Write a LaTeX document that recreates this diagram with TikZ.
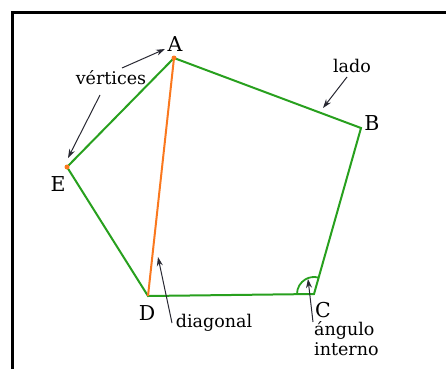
\documentclass[tikz,border=0pt]{standalone}
\usepackage{fontspec}
\setmainfont{DejaVu Serif}
\usetikzlibrary{arrows.meta}
\definecolor{side}{RGB}{40,160,30}
\definecolor{diag}{RGB}{250,120,30}
\definecolor{ink}{RGB}{40,40,50}
\tikzset{
  side/.style={draw=side, line width=2pt, line join=miter},
  diag/.style={draw=diag, line width=2pt},
  vlabel/.style={font=\fontsize{20.5}{22}\selectfont, text=black, inner sep=0pt},
  wlabel/.style={font=\fontsize{17.5}{20}\selectfont, text=black, inner sep=0pt},
  pointer/.style={draw=ink, line width=1pt, -{Stealth[length=9pt,width=6pt]}},
  dot/.style={circle, fill=diag, inner sep=0pt, minimum size=5pt}
}
\begin{document}
\begin{tikzpicture}[x=1pt,y=-1pt]
\useasboundingbox (0,0) rectangle (446,369);
\draw[line width=3pt] (12,369) -- (12,13) -- (446,13);
% vertices
\coordinate (A) at (174,58);
\coordinate (B) at (361,128);
\coordinate (C) at (314,294);
\coordinate (D) at (148,296);
\coordinate (E) at (67,167);
\draw[side] (A) -- (B) -- (C) -- (D) -- (E) -- cycle;
\draw[diag] (A) -- (D);
\node[dot] (dA) at (A) {};
\node[dot] (dE) at (E) {};
% interior angle at C
\draw[side, line width=1.8pt] ([shift={(-17,0)}]C) arc[start angle=180, end angle=284, radius=17];
% vertex labels
\node[vlabel] (lA) at (175,44) {A};
\node[vlabel] (lB) at (372,123) {B};
\node[vlabel] (lC) at (323,310) {C};
\node[vlabel] (lD) at (147,313) {D};
\node[vlabel] (lE) at (58,184) {E};
% word labels
\node[wlabel] (vert) at (111,78) {vértices};
\node[wlabel] (lado) at (352,66) {lado};
\node[wlabel] (diagonal) at (214,323) {diagonal};
\node[wlabel, align=left, anchor=north west] (ang) at (314,321) {ángulo\\[0pt]interno};
% pointer ends
\coordinate (pA) at (165,49);
\coordinate (pE) at (68,158);
\coordinate (pL) at (323,108);
\coordinate (pD) at (158,257);
\coordinate (pC) at (308,279);
\coordinate (sA) at (122,68);
\coordinate (sE) at (100,95);
\coordinate (sL) at (347,77);
\coordinate (sD) at (172,323);
\coordinate (sC) at (313,322);
\draw[pointer] (sA) -- (pA);
\draw[pointer] (sE) -- (pE);
\draw[pointer] (sL) -- (pL);
\draw[pointer] (sD) -- (pD);
\draw[pointer] (sC) -- (pC);
\end{tikzpicture}
\end{document}
